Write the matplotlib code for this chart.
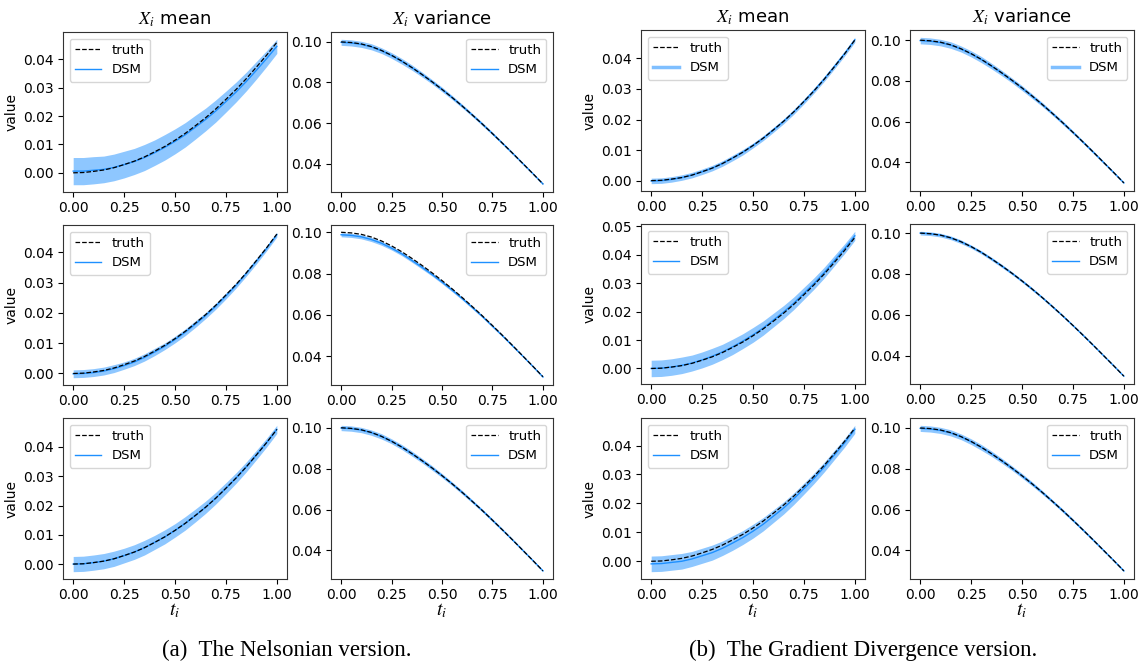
import matplotlib
matplotlib.use("Agg")
import matplotlib.pyplot as plt
from matplotlib.lines import Line2D
from matplotlib.ticker import MultipleLocator
import numpy as np

plt.rcParams['mathtext.fontset'] = 'stix'
plt.rcParams['font.family'] = ['DejaVu Sans']

# ---------------- data ----------------
t = [0.00, 0.05, 0.10, 0.15, 0.20, 0.25, 0.30, 0.35, 0.40, 0.45, 0.50,
     0.55, 0.60, 0.65, 0.70, 0.75, 0.80, 0.85, 0.90, 0.95, 1.00]

truth_mean = [0.0000, 0.0001, 0.0005, 0.0010, 0.0018, 0.0029, 0.0041, 0.0056, 0.0074, 0.0093, 0.0115,
              0.0139, 0.0166, 0.0194, 0.0225, 0.0259, 0.0294, 0.0332, 0.0373, 0.0415, 0.0460]
truth_var = [0.1000, 0.0997, 0.0990, 0.0977, 0.0958, 0.0934, 0.0906, 0.0874, 0.0840, 0.0804, 0.0766,
             0.0726, 0.0684, 0.0640, 0.0595, 0.0548, 0.0500, 0.0451, 0.0401, 0.0351, 0.0300]

# (a) Nelsonian
a1_mean_dsm = [0.0006, 0.0006, 0.0009, 0.0012, 0.0019, 0.0029, 0.0040, 0.0054, 0.0071, 0.0090, 0.0111,
               0.0134, 0.0161, 0.0188, 0.0218, 0.0251, 0.0285, 0.0322, 0.0362, 0.0403, 0.0446]
a1_mean_band = [0.0048, 0.0048, 0.0048, 0.0047, 0.0047, 0.0047, 0.0046, 0.0046, 0.0045, 0.0045, 0.0044,
                0.0043, 0.0042, 0.0040, 0.0039, 0.0037, 0.0035, 0.0033, 0.0031, 0.0028, 0.0025]
a1_var_dsm = [0.0998, 0.0995, 0.0988, 0.0976, 0.0957, 0.0933, 0.0905, 0.0874, 0.0840, 0.0804, 0.0766,
              0.0726, 0.0684, 0.0640, 0.0595, 0.0548, 0.0500, 0.0451, 0.0401, 0.0351, 0.0300]
a1_var_band = [0.0015, 0.0015, 0.0015, 0.0015, 0.0014, 0.0014, 0.0014, 0.0013, 0.0012, 0.0011, 0.0011,
               0.0010, 0.0009, 0.0008, 0.0008, 0.0007, 0.0006, 0.0006, 0.0005, 0.0004, 0.0004]

a2_mean_dsm = [-0.0001, 0.0000, 0.0003, 0.0008, 0.0016, 0.0026, 0.0038, 0.0053, 0.0071, 0.0090, 0.0112,
               0.0136, 0.0163, 0.0191, 0.0222, 0.0256, 0.0291, 0.0330, 0.0371, 0.0413, 0.0458]
a2_mean_band = [0.0013, 0.0013, 0.0013, 0.0013, 0.0013, 0.0012, 0.0012, 0.0012, 0.0012, 0.0011, 0.0011,
                0.0011, 0.0011, 0.0010, 0.0010, 0.0010, 0.0009, 0.0009, 0.0009, 0.0008, 0.0008]
a2_var_dsm = [0.0988, 0.0985, 0.0978, 0.0965, 0.0947, 0.0923, 0.0896, 0.0864, 0.0831, 0.0796, 0.0759,
              0.0720, 0.0679, 0.0636, 0.0592, 0.0545, 0.0498, 0.0449, 0.0400, 0.0350, 0.0299]
a2_var_band = [0.0010, 0.0010, 0.0010, 0.0010, 0.0010, 0.0009, 0.0009, 0.0009, 0.0009, 0.0008, 0.0008,
               0.0008, 0.0007, 0.0007, 0.0006, 0.0006, 0.0005, 0.0005, 0.0004, 0.0004, 0.0004]

a3_mean_dsm = [0.0000, 0.0001, 0.0005, 0.0010, 0.0018, 0.0029, 0.0041, 0.0056, 0.0074, 0.0093, 0.0115,
               0.0139, 0.0166, 0.0194, 0.0225, 0.0259, 0.0294, 0.0332, 0.0373, 0.0415, 0.0460]
a3_mean_band = [0.0026, 0.0026, 0.0026, 0.0026, 0.0026, 0.0025, 0.0025, 0.0025, 0.0024, 0.0024, 0.0023,
                0.0023, 0.0022, 0.0021, 0.0020, 0.0019, 0.0018, 0.0017, 0.0016, 0.0015, 0.0014]
a3_var_dsm = [0.0999, 0.0996, 0.0989, 0.0976, 0.0958, 0.0934, 0.0906, 0.0874, 0.0840, 0.0804, 0.0766,
              0.0726, 0.0684, 0.0640, 0.0595, 0.0548, 0.0500, 0.0451, 0.0401, 0.0351, 0.0300]
a3_var_band = [0.0013, 0.0013, 0.0013, 0.0013, 0.0013, 0.0012, 0.0012, 0.0012, 0.0011, 0.0011, 0.0010,
               0.0009, 0.0009, 0.0008, 0.0007, 0.0007, 0.0006, 0.0005, 0.0005, 0.0004, 0.0004]

# (b) Gradient Divergence
b1_mean_dsm = [-0.0001, 0.0000, 0.0004, 0.0010, 0.0018, 0.0029, 0.0041, 0.0056, 0.0074, 0.0093, 0.0115,
               0.0139, 0.0166, 0.0194, 0.0225, 0.0259, 0.0295, 0.0333, 0.0374, 0.0416, 0.0461]
b1_mean_band = [0.0009, 0.0009, 0.0009, 0.0009, 0.0009, 0.0009, 0.0009, 0.0009, 0.0009, 0.0009, 0.0008,
                0.0008, 0.0008, 0.0008, 0.0008, 0.0008, 0.0008, 0.0008, 0.0008, 0.0008, 0.0008]
b1_var_dsm = [0.0998, 0.0995, 0.0988, 0.0976, 0.0957, 0.0933, 0.0905, 0.0873, 0.0839, 0.0803, 0.0765,
              0.0725, 0.0684, 0.0640, 0.0595, 0.0548, 0.0500, 0.0451, 0.0401, 0.0351, 0.0300]
b1_var_band = [0.0016, 0.0016, 0.0016, 0.0016, 0.0015, 0.0015, 0.0015, 0.0014, 0.0013, 0.0012, 0.0012,
               0.0011, 0.0010, 0.0009, 0.0009, 0.0008, 0.0007, 0.0007, 0.0006, 0.0005, 0.0004]

b2_mean_dsm = [0.0000, 0.0001, 0.0005, 0.0011, 0.0019, 0.0030, 0.0043, 0.0058, 0.0076, 0.0096, 0.0118,
               0.0142, 0.0170, 0.0198, 0.0229, 0.0264, 0.0299, 0.0337, 0.0379, 0.0421, 0.0466]
b2_mean_band = [0.0029, 0.0029, 0.0029, 0.0029, 0.0028, 0.0028, 0.0028, 0.0027, 0.0027, 0.0026, 0.0026,
                0.0025, 0.0024, 0.0023, 0.0022, 0.0021, 0.0020, 0.0019, 0.0018, 0.0017, 0.0016]
b2_var_dsm = [0.1000, 0.0997, 0.0990, 0.0977, 0.0958, 0.0934, 0.0906, 0.0874, 0.0840, 0.0804, 0.0766,
              0.0726, 0.0684, 0.0640, 0.0595, 0.0548, 0.0500, 0.0451, 0.0401, 0.0351, 0.0300]
b2_var_band = [0.0009, 0.0009, 0.0009, 0.0009, 0.0009, 0.0008, 0.0008, 0.0008, 0.0008, 0.0007, 0.0007,
               0.0007, 0.0006, 0.0006, 0.0005, 0.0005, 0.0005, 0.0004, 0.0004, 0.0003, 0.0003]

b3_mean_dsm = [-0.0009, -0.0008, -0.0004, 0.0000, 0.0008, 0.0019, 0.0030, 0.0045, 0.0063, 0.0082, 0.0104,
               0.0128, 0.0156, 0.0184, 0.0216, 0.0251, 0.0287, 0.0326, 0.0368, 0.0410, 0.0456]
b3_mean_band = [0.0027, 0.0027, 0.0027, 0.0027, 0.0026, 0.0026, 0.0026, 0.0025, 0.0025, 0.0024, 0.0024,
                0.0023, 0.0022, 0.0021, 0.0020, 0.0019, 0.0018, 0.0017, 0.0016, 0.0015, 0.0014]
b3_var_dsm = [0.0998, 0.0995, 0.0988, 0.0976, 0.0957, 0.0933, 0.0905, 0.0874, 0.0840, 0.0804, 0.0766,
              0.0726, 0.0684, 0.0640, 0.0595, 0.0548, 0.0500, 0.0451, 0.0401, 0.0351, 0.0300]
b3_var_band = [0.0015, 0.0015, 0.0015, 0.0015, 0.0014, 0.0014, 0.0014, 0.0013, 0.0012, 0.0011, 0.0011,
               0.0010, 0.0009, 0.0008, 0.0008, 0.0007, 0.0006, 0.0006, 0.0005, 0.0004, 0.0004]

col_titles = [r'$X_i$ mean', r'$X_i$ variance']
captions = ['(a)  The Nelsonian version.', '(b)  The Gradient Divergence version.']

# ---------------- layout ----------------
W, H = 1141, 667
fig = plt.figure(figsize=(W / 100, H / 100), dpi=100)

def pos(x0, x1, y0, y1):
    return [x0 / W, 1 - y1 / H, (x1 - x0) / W, (y1 - y0) / H]

panels = [
    dict(cols=[(63, 287), (331, 553)], rows=[(32, 192), (225, 385), (418, 579)],
         mean=[(a1_mean_dsm, a1_mean_band), (a2_mean_dsm, a2_mean_band), (a3_mean_dsm, a3_mean_band)],
         var=[(a1_var_dsm, a1_var_band), (a2_var_dsm, a2_var_band), (a3_var_dsm, a3_var_band)],
         cap_x=287),
    dict(cols=[(641, 865), (910, 1134)], rows=[(30, 191), (224, 384), (418, 579)],
         mean=[(b1_mean_dsm, b1_mean_band), (b2_mean_dsm, b2_mean_band), (b3_mean_dsm, b3_mean_band)],
         var=[(b1_var_dsm, b1_var_band), (b2_var_dsm, b2_var_band), (b3_var_dsm, b3_var_band)],
         cap_x=863),
]

tt = np.array(t)
FS = 10
LFS = 9.5
blue = '#1e90ff'

for pi, p in enumerate(panels):
    for ri, (y0, y1) in enumerate(p['rows']):
        for ci, (x0, x1) in enumerate(p['cols']):
            ax = fig.add_axes(pos(x0, x1, y0, y1))
            if ci == 0:
                dsm, band = p['mean'][ri]
                truth = truth_mean
            else:
                dsm, band = p['var'][ri]
                truth = truth_var
            d = np.array(dsm)
            b = np.array(band)
            ax.fill_between(tt, d - b, d + b, color=blue, alpha=0.5, lw=0)
            l_dsm, = ax.plot(tt, d, color=blue, lw=1.0, label='DSM')
            l_tr, = ax.plot(tt, truth, 'k--', lw=0.9, label='truth')
            ax.set_xticks([0, 0.25, 0.5, 0.75, 1.0])
            ax.set_xticklabels(['0.00', '0.25', '0.50', '0.75', '1.00'])
            ax.yaxis.set_major_locator(MultipleLocator(0.01 if ci == 0 else 0.02))
            ax.yaxis.set_major_formatter(plt.FormatStrFormatter('%.2f'))
            ax.tick_params(labelsize=FS, length=3.5, width=0.8, pad=3)
            for s in ax.spines.values():
                s.set_linewidth(0.8)
                s.set_color('#333333')
            if pi == 1 and ri == 0:
                handles = [l_tr, Line2D([], [], color='#7fbfff', lw=2.5)]
            else:
                handles = [l_tr, l_dsm]
            ax.legend(handles, ['truth', 'DSM'], loc='upper left' if ci == 0 else 'upper right',
                      fontsize=LFS)
            if ci == 0:
                ax.set_ylabel('value', fontsize=FS, labelpad=3)
            if ri == 0:
                ax.set_title(col_titles[ci], fontsize=13, pad=5)
            if ri == 2:
                ax.set_xlabel(r'$t_i$', fontsize=14, labelpad=-1)
    fig.text(p['cap_x'] / W, 1 - 650 / H, captions[pi], ha='center', va='center',
             fontsize=16.5, family='Liberation Serif')

fig.savefig('out.png', dpi=100)
